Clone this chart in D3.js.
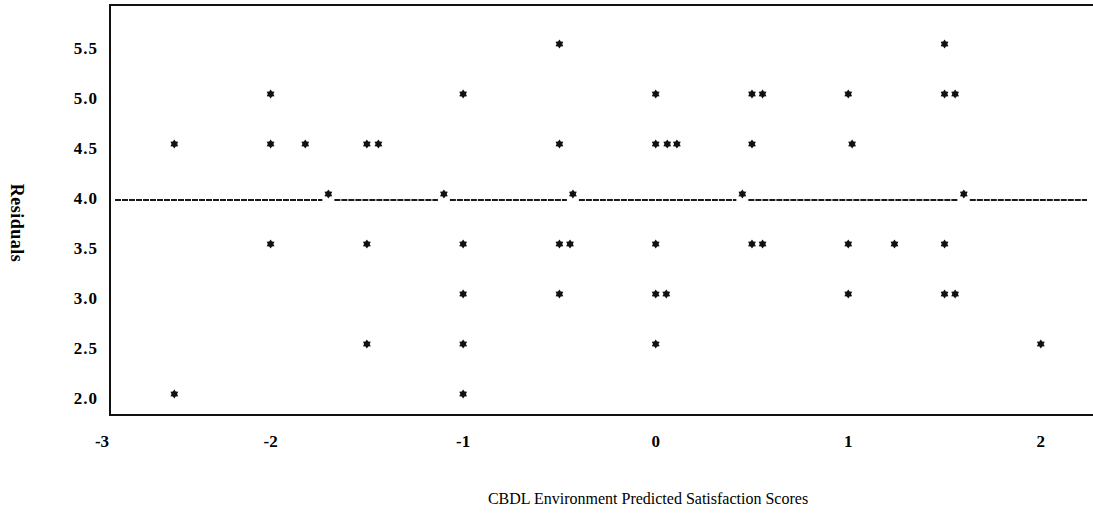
<!DOCTYPE html>
<html>
<head>
<meta charset="utf-8">
<script src="https://cdn.jsdelivr.net/npm/d3@7"></script>
<style>
  body { margin: 0; background: #fff; }
  svg { display: block; }
</style>
</head>
<body>
<div id="chart"></div>
<script>
// residual rows
var pointX = [
  -0.5, 1.5,
  -2, -1, 0, 0.5, 0.555, 1, 1.5, 1.555,
  -2.5, -2, -1.82, -1.5, -1.44, -0.5, 0, 0.06, 0.11, 0.5, 1.02,
  -1.70, -1.10, -0.43, 0.45, 1.60,
  -2, -1.5, -1, -0.5, -0.445, 0, 0.5, 0.555, 1, 1.24, 1.5,
  -1, -0.5, 0, 0.055, 1, 1.5, 1.555,
  -1.5, -1, 0, 2,
  -2.5, -1
];
var pointY = [
  5.5, 5.5,
  5.0, 5.0, 5.0, 5.0, 5.0, 5.0, 5.0, 5.0,
  4.5, 4.5, 4.5, 4.5, 4.5, 4.5, 4.5, 4.5, 4.5, 4.5, 4.5,
  4.0, 4.0, 4.0, 4.0, 4.0,
  3.5, 3.5, 3.5, 3.5, 3.5, 3.5, 3.5, 3.5, 3.5, 3.5, 3.5,
  3.0, 3.0, 3.0, 3.0, 3.0, 3.0, 3.0,
  2.5, 2.5, 2.5, 2.5,
  2.0, 2.0
];
var xTicks = [-3, -2, -1, 0, 1, 2];
var yTicks = [2.0, 2.5, 3.0, 3.5, 4.0, 4.5, 5.0, 5.5];
var refLevel = 3.94;
var xTitle = 'CBDL Environment Predicted Satisfaction Scores';
var yTitle = 'Residuals';

var width = 1093;
var height = 523;
var plotLeft = 110, plotTop = 5, plotRight = 1093, plotBottom = 415;

var x = d3.scaleLinear().domain([-2.834, 2.271]).range([plotLeft, plotRight]);
var y = d3.scaleLinear().domain([1.79, 5.89]).range([plotBottom, plotTop]);

var svg = d3.select('#chart')
  .append('svg')
  .attr('width', width)
  .attr('height', height);

var serif = '"Liberation Serif", "DejaVu Serif", serif';

// frame: top, left, bottom
svg.append('path')
  .attr('d', 'M' + plotRight + ',' + plotTop + 'H' + plotLeft + 'V' + plotBottom + 'H' + plotRight)
  .attr('fill', 'none')
  .attr('stroke', '#111')
  .attr('stroke-width', 2);

// reference line, broken where the 4.0 points sit
var onLine = pointX.filter(function(d, i) { return pointY[i] === 4.0; })
  .map(function(d) { return x(d); })
  .sort(d3.ascending);
var segStart = plotLeft + 5;
var segs = [];
onLine.forEach(function(px) {
  segs.push([segStart, px - 6]);
  segStart = px + 6;
});
segs.push([segStart, plotRight - 6]);

svg.selectAll('.ref')
  .data(segs)
  .enter()
  .append('line')
  .attr('class', 'ref')
  .attr('x1', function(d) { return d[0]; })
  .attr('x2', function(d) { return d[1]; })
  .attr('y1', y(refLevel))
  .attr('y2', y(refLevel))
  .attr('stroke', '#1a1a1a')
  .attr('stroke-width', 2)
  .attr('stroke-dasharray', '6,1');

// six pointed star, like the printed asterisks
var star6 = {
  draw: function(ctx, size) {
    var r = Math.sqrt(size) * 0.75, r2 = r * 0.62;
    for (var i = 0; i < 12; i++) {
      var a = Math.PI / 6 * i - Math.PI / 2;
      var rr = i % 2 === 0 ? r : r2;
      if (i === 0) ctx.moveTo(rr * Math.cos(a), rr * Math.sin(a));
      else ctx.lineTo(rr * Math.cos(a), rr * Math.sin(a));
    }
    ctx.closePath();
  }
};
var sym = d3.symbol().type(star6).size(36);

svg.selectAll('.pt')
  .data(d3.range(pointX.length))
  .enter()
  .append('path')
  .attr('class', 'pt')
  .attr('d', sym)
  .attr('transform', function(i) {
    return 'translate(' + x(pointX[i]) + ',' + y(pointY[i]) + ')';
  })
  .attr('fill', '#111');

// y tick labels
svg.selectAll('.ylab')
  .data(yTicks)
  .enter()
  .append('text')
  .attr('class', 'ylab')
  .attr('x', plotLeft - 12)
  .attr('y', function(d) { return y(d) + 10; })
  .attr('text-anchor', 'end')
  .style('font-family', serif)
  .style('font-weight', 'bold')
  .style('font-size', '17px')
  .style('letter-spacing', '1px')
  .text(function(d) { return d.toFixed(1); });

// x tick labels, first one pulled in to the frame edge
svg.selectAll('.xlab')
  .data(xTicks)
  .enter()
  .append('text')
  .attr('class', 'xlab')
  .attr('x', function(d) { return Math.max(x(d), plotLeft - 8); })
  .attr('y', 447)
  .attr('text-anchor', 'middle')
  .style('font-family', serif)
  .style('font-weight', 'bold')
  .style('font-size', '17px')
  .text(function(d) { return d; });

svg.append('text')
  .attr('x', 648)
  .attr('y', 504)
  .attr('text-anchor', 'middle')
  .style('font-family', serif)
  .style('font-size', '16px')
  .text(xTitle);

svg.append('text')
  .attr('transform', 'translate(11,223) rotate(90)')
  .attr('text-anchor', 'middle')
  .style('font-family', serif)
  .style('font-weight', 'bold')
  .style('font-size', '18px')
  .style('letter-spacing', '0.5px')
  .text(yTitle);
</script>
</body>
</html>
